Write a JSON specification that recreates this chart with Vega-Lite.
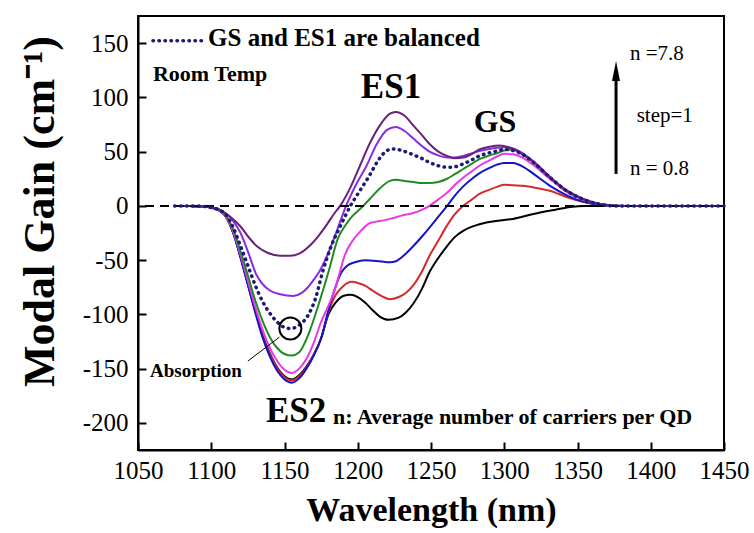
{
  "$schema": "https://vega.github.io/schema/vega-lite/v6.json",
  "autosize": {"type": "none"},
  "padding": {"left": 138, "top": 16, "right": 30, "bottom": 83},
  "width": 586,
  "height": 434,
  "background": "white",
  "config": {
    "font": "Liberation Serif",
    "locale": {"number": {"decimal": ".", "thousands": "", "grouping": [3], "currency": ["", ""], "minus": "-"}},
    "view": {"stroke": "black", "strokeWidth": 2},
    "axis": {
      "domainColor": "black", "domainWidth": 2, "tickColor": "black", "tickWidth": 2,
      "labelColor": "black", "labelFont": "Liberation Serif", "labelFontSize": 25,
      "titleColor": "black", "titleFont": "Liberation Serif", "titleFontWeight": "bold", "titleFontSize": 34,
      "grid": false
    }
  },
  "datasets": {
    "curves": [
      {"s":"0.8","x":1075,"y":0},{"s":"0.8","x":1085,"y":0},{"s":"0.8","x":1095,"y":-0.5},{"s":"0.8","x":1100,"y":-1.5},{"s":"0.8","x":1105,"y":-4},{"s":"0.8","x":1110,"y":-10},{"s":"0.8","x":1115,"y":-25},{"s":"0.8","x":1120,"y":-47},{"s":"0.8","x":1125,"y":-72},{"s":"0.8","x":1130,"y":-96},{"s":"0.8","x":1135,"y":-119},{"s":"0.8","x":1140,"y":-136},{"s":"0.8","x":1145,"y":-149},{"s":"0.8","x":1150,"y":-157},{"s":"0.8","x":1155,"y":-160},{"s":"0.8","x":1160,"y":-156},{"s":"0.8","x":1165,"y":-148},{"s":"0.8","x":1170,"y":-137},{"s":"0.8","x":1175,"y":-122},{"s":"0.8","x":1180,"y":-100},{"s":"0.8","x":1185,"y":-89},{"s":"0.8","x":1190,"y":-83},{"s":"0.8","x":1195,"y":-82},{"s":"0.8","x":1200,"y":-84},{"s":"0.8","x":1205,"y":-89},{"s":"0.8","x":1210,"y":-96},{"s":"0.8","x":1215,"y":-102},{"s":"0.8","x":1221,"y":-105},{"s":"0.8","x":1228,"y":-103},{"s":"0.8","x":1233,"y":-98},{"s":"0.8","x":1238,"y":-90},{"s":"0.8","x":1244,"y":-76},{"s":"0.8","x":1249,"y":-61},{"s":"0.8","x":1255,"y":-48},{"s":"0.8","x":1261,"y":-37},{"s":"0.8","x":1266,"y":-29},{"s":"0.8","x":1272,"y":-23},{"s":"0.8","x":1283,"y":-17},{"s":"0.8","x":1297,"y":-13.5},{"s":"0.8","x":1306,"y":-12},{"s":"0.8","x":1320,"y":-7.5},{"s":"0.8","x":1335,"y":-3.5},{"s":"0.8","x":1345,"y":-1},{"s":"0.8","x":1355,"y":0},{"s":"0.8","x":1370,"y":0},{"s":"0.8","x":1450,"y":0},

      {"s":"1.8","x":1075,"y":0},{"s":"1.8","x":1085,"y":0},{"s":"1.8","x":1095,"y":-0.5},{"s":"1.8","x":1100,"y":-1.5},{"s":"1.8","x":1105,"y":-4},{"s":"1.8","x":1110,"y":-10},{"s":"1.8","x":1115,"y":-25},{"s":"1.8","x":1120,"y":-47},{"s":"1.8","x":1125,"y":-72},{"s":"1.8","x":1130,"y":-97},{"s":"1.8","x":1135,"y":-120},{"s":"1.8","x":1140,"y":-137},{"s":"1.8","x":1145,"y":-150},{"s":"1.8","x":1150,"y":-158},{"s":"1.8","x":1155,"y":-161},{"s":"1.8","x":1160,"y":-157},{"s":"1.8","x":1165,"y":-149},{"s":"1.8","x":1170,"y":-137},{"s":"1.8","x":1175,"y":-122},{"s":"1.8","x":1180,"y":-98},{"s":"1.8","x":1185,"y":-82},{"s":"1.8","x":1190,"y":-74},{"s":"1.8","x":1196,"y":-70},{"s":"1.8","x":1200,"y":-71},{"s":"1.8","x":1205,"y":-73.5},{"s":"1.8","x":1210,"y":-78},{"s":"1.8","x":1216,"y":-83},{"s":"1.8","x":1222,"y":-86},{"s":"1.8","x":1228,"y":-84},{"s":"1.8","x":1233,"y":-80},{"s":"1.8","x":1238,"y":-73},{"s":"1.8","x":1244,"y":-60},{"s":"1.8","x":1249,"y":-46},{"s":"1.8","x":1255,"y":-32},{"s":"1.8","x":1261,"y":-18},{"s":"1.8","x":1266,"y":-8},{"s":"1.8","x":1272,"y":0},{"s":"1.8","x":1278,"y":6},{"s":"1.8","x":1283,"y":11},{"s":"1.8","x":1290,"y":15},{"s":"1.8","x":1295,"y":17.5},{"s":"1.8","x":1300,"y":19.5},{"s":"1.8","x":1306,"y":19},{"s":"1.8","x":1313,"y":18.5},{"s":"1.8","x":1320,"y":17},{"s":"1.8","x":1331,"y":14},{"s":"1.8","x":1343,"y":8},{"s":"1.8","x":1354,"y":3.7},{"s":"1.8","x":1365,"y":1},{"s":"1.8","x":1375,"y":0},{"s":"1.8","x":1450,"y":0},

      {"s":"2.8","x":1075,"y":0},{"s":"2.8","x":1085,"y":0},{"s":"2.8","x":1095,"y":-0.5},{"s":"2.8","x":1100,"y":-1.5},{"s":"2.8","x":1105,"y":-4},{"s":"2.8","x":1110,"y":-10},{"s":"2.8","x":1115,"y":-25},{"s":"2.8","x":1120,"y":-48},{"s":"2.8","x":1125,"y":-73},{"s":"2.8","x":1130,"y":-98},{"s":"2.8","x":1135,"y":-121},{"s":"2.8","x":1140,"y":-139},{"s":"2.8","x":1145,"y":-152},{"s":"2.8","x":1150,"y":-160},{"s":"2.8","x":1155,"y":-163},{"s":"2.8","x":1160,"y":-159},{"s":"2.8","x":1165,"y":-150},{"s":"2.8","x":1170,"y":-138},{"s":"2.8","x":1175,"y":-122},{"s":"2.8","x":1180,"y":-96},{"s":"2.8","x":1185,"y":-74},{"s":"2.8","x":1189,"y":-61},{"s":"2.8","x":1193,"y":-55},{"s":"2.8","x":1198,"y":-52},{"s":"2.8","x":1205,"y":-50},{"s":"2.8","x":1215,"y":-51},{"s":"2.8","x":1222,"y":-52},{"s":"2.8","x":1226,"y":-51},{"s":"2.8","x":1232,"y":-45},{"s":"2.8","x":1238,"y":-37},{"s":"2.8","x":1244,"y":-28},{"s":"2.8","x":1249,"y":-20},{"s":"2.8","x":1255,"y":-10},{"s":"2.8","x":1261,"y":0},{"s":"2.8","x":1266,"y":9},{"s":"2.8","x":1272,"y":18},{"s":"2.8","x":1278,"y":25},{"s":"2.8","x":1283,"y":30},{"s":"2.8","x":1290,"y":35},{"s":"2.8","x":1295,"y":38},{"s":"2.8","x":1300,"y":39.6},{"s":"2.8","x":1306,"y":39.5},{"s":"2.8","x":1313,"y":36},{"s":"2.8","x":1320,"y":29.5},{"s":"2.8","x":1331,"y":18.7},{"s":"2.8","x":1343,"y":9.5},{"s":"2.8","x":1354,"y":3.7},{"s":"2.8","x":1365,"y":1},{"s":"2.8","x":1375,"y":0},{"s":"2.8","x":1450,"y":0},

      {"s":"3.8","x":1075,"y":0},{"s":"3.8","x":1085,"y":0},{"s":"3.8","x":1095,"y":-0.5},{"s":"3.8","x":1100,"y":-1.5},{"s":"3.8","x":1105,"y":-4},{"s":"3.8","x":1110,"y":-10},{"s":"3.8","x":1115,"y":-24},{"s":"3.8","x":1120,"y":-45},{"s":"3.8","x":1125,"y":-69},{"s":"3.8","x":1130,"y":-93},{"s":"3.8","x":1135,"y":-114},{"s":"3.8","x":1140,"y":-131},{"s":"3.8","x":1145,"y":-143},{"s":"3.8","x":1150,"y":-151},{"s":"3.8","x":1155,"y":-154},{"s":"3.8","x":1160,"y":-150},{"s":"3.8","x":1165,"y":-141},{"s":"3.8","x":1170,"y":-126},{"s":"3.8","x":1175,"y":-107},{"s":"3.8","x":1180,"y":-92},{"s":"3.8","x":1184.5,"y":-76.5},{"s":"3.8","x":1188,"y":-60},{"s":"3.8","x":1191,"y":-46},{"s":"3.8","x":1196,"y":-33},{"s":"3.8","x":1201.5,"y":-24},{"s":"3.8","x":1208,"y":-16},{"s":"3.8","x":1215,"y":-14},{"s":"3.8","x":1222,"y":-12},{"s":"3.8","x":1230,"y":-9},{"s":"3.8","x":1238,"y":-6.5},{"s":"3.8","x":1244,"y":-3.5},{"s":"3.8","x":1249,"y":0},{"s":"3.8","x":1255,"y":6},{"s":"3.8","x":1261,"y":12},{"s":"3.8","x":1266,"y":19},{"s":"3.8","x":1272,"y":26},{"s":"3.8","x":1278,"y":32},{"s":"3.8","x":1283,"y":37},{"s":"3.8","x":1290,"y":42},{"s":"3.8","x":1295,"y":45.5},{"s":"3.8","x":1300,"y":48},{"s":"3.8","x":1306,"y":47.5},{"s":"3.8","x":1313,"y":44},{"s":"3.8","x":1320,"y":37.5},{"s":"3.8","x":1331,"y":25},{"s":"3.8","x":1343,"y":12.5},{"s":"3.8","x":1354,"y":5.5},{"s":"3.8","x":1365,"y":1.5},{"s":"3.8","x":1375,"y":0},{"s":"3.8","x":1450,"y":0},

      {"s":"4.8","x":1075,"y":0},{"s":"4.8","x":1085,"y":0},{"s":"4.8","x":1095,"y":-0.5},{"s":"4.8","x":1100,"y":-1.5},{"s":"4.8","x":1105,"y":-4},{"s":"4.8","x":1110,"y":-9},{"s":"4.8","x":1115,"y":-22},{"s":"4.8","x":1120,"y":-42},{"s":"4.8","x":1125,"y":-64},{"s":"4.8","x":1130,"y":-87},{"s":"4.8","x":1135,"y":-106},{"s":"4.8","x":1140,"y":-121},{"s":"4.8","x":1145,"y":-131},{"s":"4.8","x":1150,"y":-136.5},{"s":"4.8","x":1155,"y":-138},{"s":"4.8","x":1160,"y":-135},{"s":"4.8","x":1166,"y":-119.5},{"s":"4.8","x":1173,"y":-92},{"s":"4.8","x":1180,"y":-61},{"s":"4.8","x":1186.5,"y":-30},{"s":"4.8","x":1191,"y":-19},{"s":"4.8","x":1196,"y":-10},{"s":"4.8","x":1203.8,"y":0},{"s":"4.8","x":1210,"y":9},{"s":"4.8","x":1215,"y":16},{"s":"4.8","x":1222,"y":23},{"s":"4.8","x":1226,"y":24},{"s":"4.8","x":1232,"y":23},{"s":"4.8","x":1238,"y":22},{"s":"4.8","x":1244,"y":21},{"s":"4.8","x":1249,"y":21},{"s":"4.8","x":1255,"y":22},{"s":"4.8","x":1261,"y":25},{"s":"4.8","x":1266,"y":29},{"s":"4.8","x":1272,"y":34},{"s":"4.8","x":1278,"y":39},{"s":"4.8","x":1283,"y":43},{"s":"4.8","x":1290,"y":46.5},{"s":"4.8","x":1295,"y":48.5},{"s":"4.8","x":1300,"y":51},{"s":"4.8","x":1306,"y":52},{"s":"4.8","x":1313,"y":48},{"s":"4.8","x":1320,"y":40},{"s":"4.8","x":1331,"y":26.5},{"s":"4.8","x":1343,"y":13.5},{"s":"4.8","x":1354,"y":6},{"s":"4.8","x":1365,"y":1.5},{"s":"4.8","x":1375,"y":0},{"s":"4.8","x":1450,"y":0},

      {"s":"5.8","x":1075,"y":0},{"s":"5.8","x":1085,"y":0},{"s":"5.8","x":1095,"y":-0.5},{"s":"5.8","x":1100,"y":-1.5},{"s":"5.8","x":1105,"y":-3.5},{"s":"5.8","x":1110,"y":-8},{"s":"5.8","x":1115,"y":-20},{"s":"5.8","x":1120,"y":-37},{"s":"5.8","x":1125,"y":-55},{"s":"5.8","x":1130,"y":-73},{"s":"5.8","x":1135,"y":-88},{"s":"5.8","x":1140,"y":-99},{"s":"5.8","x":1145,"y":-107},{"s":"5.8","x":1150,"y":-112},{"s":"5.8","x":1154,"y":-113},{"s":"5.8","x":1160,"y":-110},{"s":"5.8","x":1166,"y":-101},{"s":"5.8","x":1171,"y":-86},{"s":"5.8","x":1176,"y":-61},{"s":"5.8","x":1182,"y":-36.6},{"s":"5.8","x":1188,"y":-19},{"s":"5.8","x":1195,"y":0},{"s":"5.8","x":1201,"y":13},{"s":"5.8","x":1208,"y":28},{"s":"5.8","x":1214,"y":42},{"s":"5.8","x":1220,"y":51},{"s":"5.8","x":1224,"y":52.5},{"s":"5.8","x":1230,"y":51},{"s":"5.8","x":1238,"y":47},{"s":"5.8","x":1244,"y":43.5},{"s":"5.8","x":1249,"y":40},{"s":"5.8","x":1255,"y":37},{"s":"5.8","x":1261,"y":35.6},{"s":"5.8","x":1266,"y":36},{"s":"5.8","x":1272,"y":38.7},{"s":"5.8","x":1278,"y":42.5},{"s":"5.8","x":1283,"y":46},{"s":"5.8","x":1290,"y":49},{"s":"5.8","x":1295,"y":50.5},{"s":"5.8","x":1300,"y":52},{"s":"5.8","x":1306,"y":51},{"s":"5.8","x":1313,"y":47},{"s":"5.8","x":1320,"y":40},{"s":"5.8","x":1331,"y":26.5},{"s":"5.8","x":1343,"y":13.5},{"s":"5.8","x":1354,"y":6},{"s":"5.8","x":1365,"y":1.5},{"s":"5.8","x":1375,"y":0},{"s":"5.8","x":1450,"y":0},

      {"s":"6.8","x":1075,"y":0},{"s":"6.8","x":1085,"y":0},{"s":"6.8","x":1095,"y":-0.5},{"s":"6.8","x":1100,"y":-1.5},{"s":"6.8","x":1105,"y":-3},{"s":"6.8","x":1110,"y":-7},{"s":"6.8","x":1115,"y":-14},{"s":"6.8","x":1120,"y":-25},{"s":"6.8","x":1125,"y":-42},{"s":"6.8","x":1131,"y":-64},{"s":"6.8","x":1135,"y":-72},{"s":"6.8","x":1140,"y":-78},{"s":"6.8","x":1147,"y":-81.5},{"s":"6.8","x":1156,"y":-83},{"s":"6.8","x":1162,"y":-80},{"s":"6.8","x":1166,"y":-75},{"s":"6.8","x":1170,"y":-68},{"s":"6.8","x":1174,"y":-60},{"s":"6.8","x":1180,"y":-43},{"s":"6.8","x":1186,"y":-22},{"s":"6.8","x":1192,"y":0},{"s":"6.8","x":1199,"y":20},{"s":"6.8","x":1206,"y":37},{"s":"6.8","x":1213,"y":57},{"s":"6.8","x":1220,"y":70},{"s":"6.8","x":1226,"y":72.6},{"s":"6.8","x":1232,"y":69},{"s":"6.8","x":1238,"y":62},{"s":"6.8","x":1244,"y":55},{"s":"6.8","x":1249,"y":50},{"s":"6.8","x":1255,"y":46.5},{"s":"6.8","x":1261,"y":44.5},{"s":"6.8","x":1266,"y":44.5},{"s":"6.8","x":1272,"y":46},{"s":"6.8","x":1278,"y":48.5},{"s":"6.8","x":1283,"y":50.5},{"s":"6.8","x":1290,"y":52.5},{"s":"6.8","x":1295,"y":53.5},{"s":"6.8","x":1300,"y":54},{"s":"6.8","x":1306,"y":53},{"s":"6.8","x":1313,"y":48},{"s":"6.8","x":1320,"y":41},{"s":"6.8","x":1331,"y":27},{"s":"6.8","x":1343,"y":13.5},{"s":"6.8","x":1354,"y":6},{"s":"6.8","x":1365,"y":2},{"s":"6.8","x":1375,"y":0},{"s":"6.8","x":1450,"y":0},

      {"s":"7.8","x":1075,"y":0},{"s":"7.8","x":1085,"y":0},{"s":"7.8","x":1095,"y":-0.5},{"s":"7.8","x":1100,"y":-1.5},{"s":"7.8","x":1105,"y":-3},{"s":"7.8","x":1110,"y":-7},{"s":"7.8","x":1113,"y":-10},{"s":"7.8","x":1120,"y":-19},{"s":"7.8","x":1125,"y":-28},{"s":"7.8","x":1131,"y":-37},{"s":"7.8","x":1138,"y":-43},{"s":"7.8","x":1147,"y":-46},{"s":"7.8","x":1154,"y":-46},{"s":"7.8","x":1160,"y":-44},{"s":"7.8","x":1167,"y":-37},{"s":"7.8","x":1173,"y":-28},{"s":"7.8","x":1179,"y":-17},{"s":"7.8","x":1184,"y":-7},{"s":"7.8","x":1188,"y":0},{"s":"7.8","x":1195,"y":17},{"s":"7.8","x":1201.5,"y":37},{"s":"7.8","x":1208,"y":57},{"s":"7.8","x":1215,"y":74},{"s":"7.8","x":1222,"y":85},{"s":"7.8","x":1226,"y":86.5},{"s":"7.8","x":1232,"y":83},{"s":"7.8","x":1238,"y":74},{"s":"7.8","x":1244,"y":65},{"s":"7.8","x":1249,"y":57},{"s":"7.8","x":1255,"y":50},{"s":"7.8","x":1261,"y":46},{"s":"7.8","x":1266,"y":44},{"s":"7.8","x":1272,"y":44.5},{"s":"7.8","x":1278,"y":48},{"s":"7.8","x":1283,"y":52},{"s":"7.8","x":1290,"y":54.5},{"s":"7.8","x":1297,"y":55.6},{"s":"7.8","x":1303,"y":54},{"s":"7.8","x":1308,"y":51},{"s":"7.8","x":1314,"y":46},{"s":"7.8","x":1320,"y":40.5},{"s":"7.8","x":1331,"y":26.7},{"s":"7.8","x":1343,"y":14},{"s":"7.8","x":1354,"y":6.5},{"s":"7.8","x":1365,"y":2},{"s":"7.8","x":1375,"y":0.5},{"s":"7.8","x":1385,"y":0},{"s":"7.8","x":1450,"y":0}
    ]
  },
  "layer": [
    {
      "data": {"name": "curves"},
      "transform": [{"filter": "datum.s !== '5.8'"}],
      "mark": {"type": "line", "strokeWidth": 2, "interpolate": "monotone"},
      "encoding": {
        "x": {
          "field": "x", "type": "quantitative",
          "scale": {"domain": [1050, 1450], "nice": false, "zero": false},
          "axis": {
            "title": "Wavelength (nm)",
            "values": [1050,1075,1100,1125,1150,1175,1200,1225,1250,1275,1300,1325,1350,1375,1400,1425,1450],
            "labelExpr": "datum.value % 50 === 0 ? '' + datum.value : ''",
            "tickSize": {"condition": {"test": "datum.value % 50 === 0", "value": -8}, "value": -4},
            "labelPadding": 16,
            "labelFlush": false,
            "labelOverlap": false,
            "titleX": 293, "titleY": 70, "titleBaseline": "alphabetic", "titleAlign": "center"
          }
        },
        "y": {
          "field": "y", "type": "quantitative",
          "scale": {"domain": [-225, 175], "nice": false, "zero": false},
          "axis": {
            "title": "Modal Gain (cm⁻¹)",
            "titleFontSize": 44,
            "values": [-200,-175,-150,-125,-100,-75,-50,-25,0,25,50,75,100,125,150],
            "format": "d",
            "labelExpr": "datum.value % 50 === 0 ? datum.label : ''",
            "tickSize": {"condition": {"test": "datum.value % 50 === 0", "value": -8}, "value": -4},
            "labelPadding": 18,
            "labelOverlap": false,
            "titleX": -98, "titleY": 195, "titleAngle": -90, "titleBaseline": "middle", "titleAlign": "center"
          }
        },
        "color": {
          "field": "s", "type": "nominal", "legend": null,
          "scale": {
            "domain": ["0.8","1.8","2.8","3.8","4.8","6.8","7.8"],
            "range": ["#000000","#d42a2a","#1414c8","#e838e8","#218a21","#8a2be2","#6a2277"]
          }
        }
      }
    },
    {
      "data": {"values": [{"y": 0}]},
      "mark": {"type": "rule", "strokeDash": [9, 6], "strokeWidth": 2, "color": "black"},
      "encoding": {"y": {"field": "y", "type": "quantitative"}}
    },
    {
      "data": {"name": "curves"},
      "transform": [{"filter": "datum.s === '5.8'"}],
      "mark": {"type": "line", "strokeWidth": 3.5, "strokeDash": [0.5, 5.5], "strokeCap": "round", "color": "#1a1a78", "interpolate": "monotone"},
      "encoding": {
        "x": {"field": "x", "type": "quantitative"},
        "y": {"field": "y", "type": "quantitative"}
      }
    },
    {
      "data": {"values": [{"x": 1060.2, "y": 152.3}, {"x": 1094.5, "y": 152.3}]},
      "mark": {"type": "line", "strokeWidth": 3.5, "strokeDash": [0.5, 5.5], "strokeCap": "round", "color": "#1a1a78"},
      "encoding": {
        "x": {"field": "x", "type": "quantitative"},
        "y": {"field": "y", "type": "quantitative"}
      }
    },
    {
      "data": {"values": [{"x": 1097.8, "y": 147.7, "t": "GS and ES1 are balanced"}]},
      "mark": {"type": "text", "align": "left", "baseline": "alphabetic", "fontSize": 25, "fontWeight": "bold", "color": "black"},
      "encoding": {"x": {"field": "x", "type": "quantitative"}, "y": {"field": "y", "type": "quantitative"}, "text": {"field": "t"}}
    },
    {
      "data": {"values": [{"x": 1060.2, "y": 115.5, "t": "Room Temp"}]},
      "mark": {"type": "text", "align": "left", "baseline": "alphabetic", "fontSize": 22, "fontWeight": "bold", "color": "black"},
      "encoding": {"x": {"field": "x", "type": "quantitative"}, "y": {"field": "y", "type": "quantitative"}, "text": {"field": "t"}}
    },
    {
      "data": {"values": [{"x": 1222.7, "y": 99.5, "t": "ES1"}, {"x": 1157.9, "y": -199.4, "t": "ES2"}]},
      "mark": {"type": "text", "align": "center", "baseline": "alphabetic", "fontSize": 35, "fontWeight": "bold", "color": "black"},
      "encoding": {"x": {"field": "x", "type": "quantitative"}, "y": {"field": "y", "type": "quantitative"}, "text": {"field": "t"}}
    },
    {
      "data": {"values": [{"x": 1293.7, "y": 67.9, "t": "GS"}]},
      "mark": {"type": "text", "align": "center", "baseline": "alphabetic", "fontSize": 32, "fontWeight": "bold", "color": "black"},
      "encoding": {"x": {"field": "x", "type": "quantitative"}, "y": {"field": "y", "type": "quantitative"}, "text": {"field": "t"}}
    },
    {
      "data": {"values": [{"x": 1183.1, "y": -201, "t": "n: Average number of carriers per QD"}]},
      "mark": {"type": "text", "align": "left", "baseline": "alphabetic", "fontSize": 22, "fontWeight": "bold", "color": "black"},
      "encoding": {"x": {"field": "x", "type": "quantitative"}, "y": {"field": "y", "type": "quantitative"}, "text": {"field": "t"}}
    },
    {
      "data": {"values": [{"x": 1058.2, "y": -157.9, "t": "Absorption"}]},
      "mark": {"type": "text", "align": "left", "baseline": "alphabetic", "fontSize": 19, "fontWeight": "bold", "color": "black"},
      "encoding": {"x": {"field": "x", "type": "quantitative"}, "y": {"field": "y", "type": "quantitative"}, "text": {"field": "t"}}
    },
    {
      "data": {"values": [{"x": 1385.8, "y": 134, "t": "n =7.8"}, {"x": 1390.4, "y": 77, "t": "step=1"}, {"x": 1385.8, "y": 28, "t": "n = 0.8"}]},
      "mark": {"type": "text", "align": "left", "baseline": "alphabetic", "fontSize": 21, "color": "black"},
      "encoding": {"x": {"field": "x", "type": "quantitative"}, "y": {"field": "y", "type": "quantitative"}, "text": {"field": "t"}}
    },
    {
      "data": {"values": [{"x": 1154, "y": -113}]},
      "mark": {"type": "point", "shape": "circle", "size": 484, "filled": false, "stroke": "black", "strokeWidth": 2, "opacity": 1},
      "encoding": {"x": {"field": "x", "type": "quantitative"}, "y": {"field": "y", "type": "quantitative"}}
    },
    {
      "data": {"values": [{"x": 1125, "y": -143}, {"x": 1146.5, "y": -121}]},
      "mark": {"type": "line", "strokeWidth": 1, "color": "black"},
      "encoding": {"x": {"field": "x", "type": "quantitative"}, "y": {"field": "y", "type": "quantitative"}}
    },
    {
      "data": {"values": [{"x": 1376.3, "y": 29.5, "y2": 124}]},
      "mark": {"type": "rule", "strokeWidth": 3, "color": "black"},
      "encoding": {"x": {"field": "x", "type": "quantitative"}, "y": {"field": "y", "type": "quantitative"}, "y2": {"field": "y2"}}
    },
    {
      "data": {"values": [{"x": 1376.3, "y": 124.4}]},
      "mark": {"type": "point", "shape": "M0,-1L0.4,1L-0.4,1Z", "size": 400, "filled": true, "color": "black", "opacity": 1},
      "encoding": {"x": {"field": "x", "type": "quantitative"}, "y": {"field": "y", "type": "quantitative"}}
    }
  ]
}
